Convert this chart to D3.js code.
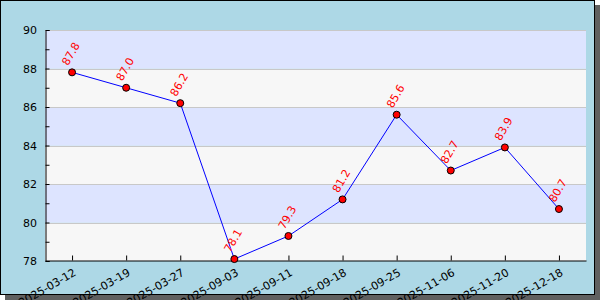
<!DOCTYPE html>
<html>
<head>
<meta charset="utf-8">
<script src="https://d3js.org/d3.v7.min.js"></script>
<style>
  html, body { margin: 0; overflow: hidden; background: #fff; }
  text { font-family: "DejaVu Sans", sans-serif; }
</style>
</head>
<body>
<svg width="600" height="300"></svg>
<script>
const dates = ["2025-03-12","2025-03-19","2025-03-27","2025-09-03","2025-09-11",
               "2025-09-18","2025-09-25","2025-11-06","2025-11-20","2025-12-18"];
const values = [87.8, 87.0, 86.2, 78.1, 79.3, 81.2, 85.6, 82.7, 83.9, 80.7];
const yTicks = [78, 80, 82, 84, 86, 88, 90];

const svg = d3.select("svg");
const m = { left: 45, top: 30, right: 586, bottom: 261 };

// shadow + frame
svg.append("rect").attr("x", 5).attr("y", 5).attr("width", 595).attr("height", 295).attr("fill", "#606060");
svg.append("rect").attr("x", 0.5).attr("y", 0.5).attr("width", 594).attr("height", 294)
  .attr("fill", "#add8e6").attr("stroke", "#000");

const x = d3.scalePoint().domain(dates).range([m.left, m.right]).padding(0.5);
const y = d3.scaleLinear().domain([78, 90]).range([m.bottom, m.top]);

// bands
const bands = d3.pairs(yTicks);
svg.append("g").selectAll("rect").data(bands).enter().append("rect")
  .attr("x", m.left).attr("width", m.right - m.left)
  .attr("y", d => y(d[1])).attr("height", d => y(d[0]) - y(d[1]))
  .attr("fill", (d, i) => i % 2 ? "#dde4ff" : "#f7f7f7");

// grid
svg.append("g").selectAll("line").data(yTicks.slice(1)).enter().append("line")
  .attr("x1", m.left).attr("x2", m.right)
  .attr("y1", d => Math.round(y(d)) + 0.5).attr("y2", d => Math.round(y(d)) + 0.5)
  .attr("stroke", "#c8c8c8");

// y axis
const ya = svg.append("g").attr("transform", `translate(${m.left + 0.5},0)`)
  .call(d3.axisRight(y).tickValues(d3.range(78, 91, 1)).tickSize(4).tickFormat(""));
ya.select(".domain").attr("stroke", "#000");
ya.selectAll("line").attr("stroke", "#000");
svg.append("g").selectAll("text").data(yTicks).enter().append("text")
  .attr("x", 37).attr("y", d => y(d) + 4)
  .attr("text-anchor", "end").attr("font-size", 11).attr("fill", "#000")
  .text(d => d);

// x axis
const xa = svg.append("g").attr("transform", `translate(0,${m.bottom - 0.5})`)
  .call(d3.axisTop(x).tickSize(5).tickSizeOuter(0).tickFormat(""));
xa.select(".domain").attr("stroke", "#000");
xa.selectAll("line").attr("stroke", "#000");
svg.append("g").selectAll("text").data(dates).enter().append("text")
  .attr("transform", d => `translate(${x(d) + 1},${m.bottom + 7}) rotate(-30)`)
  .attr("text-anchor", "end").attr("dy", "0.7em").attr("font-size", 11).attr("fill", "#000")
  .text(d => d);

// line
const pts = dates.map((d, i) => [x(d), y(values[i])]);
svg.append("path").attr("d", d3.line()(pts))
  .attr("fill", "none").attr("stroke", "#0000ff").attr("stroke-width", 1);

svg.append("g").selectAll("circle").data(pts).enter().append("circle")
  .attr("cx", d => d[0]).attr("cy", d => d[1]).attr("r", 3.5)
  .attr("fill", "#ff0000").attr("stroke", "#000").attr("stroke-width", 1);

svg.append("g").selectAll("text").data(values).enter().append("text")
  .attr("transform", (d, i) => `translate(${pts[i][0] - 4},${pts[i][1] - 6}) rotate(-60)`)
  .attr("font-size", 11).attr("fill", "#ff0000")
  .text(d => d.toFixed(1));
</script>
</body>
</html>
